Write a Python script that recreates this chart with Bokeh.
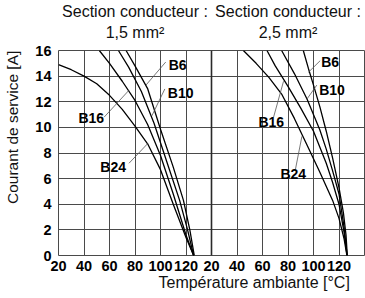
from bokeh.plotting import figure
from bokeh.models import Range1d, FixedTicker, Span, LinearAxis
from bokeh.core.properties import value
from bokeh.embed import file_html
from bokeh.resources import INLINE

# ---- data: section 1,5 mm2 (left panel) ----
L_B24_T = [20, 30, 40, 50, 60, 70, 80, 90, 100, 110, 120, 126]
L_B24_I = [14.9, 14.5, 14.0, 13.4, 12.5, 11.4, 10.1, 8.7, 6.7, 4.0, 1.4, 0]
L_B16_T = [52, 60, 70, 80, 90, 100, 110, 120, 126]
L_B16_I = [16, 15.0, 13.6, 12.1, 10.2, 7.8, 4.8, 1.6, 0]
L_B10_T = [67, 75, 85, 95, 105, 115, 121, 126]
L_B10_I = [16, 14.7, 12.8, 10.3, 7.3, 4.3, 2.1, 0]
L_B6_T = [73, 80, 90, 100, 110, 118, 123, 126.5]
L_B6_I = [16, 14.8, 13.0, 9.85, 6.9, 4.3, 2.0, 0]

# ---- data: section 2,5 mm2 (right panel) ----
R_B24_T = [45, 55, 65, 75, 85, 95, 105, 115, 120, 124, 126.2]
R_B24_I = [16, 15.0, 13.9, 12.6, 10.7, 8.6, 6.5, 4.3, 2.9, 1.3, 0]
R_B16_T = [63.5, 70, 80, 90, 100, 110, 115, 120, 124, 126.3]
R_B16_I = [16, 14.8, 13.2, 11.5, 9.7, 7.2, 5.7, 4.0, 1.8, 0]
R_B10_T = [75, 85, 95, 105, 110, 115, 120, 124, 126.4]
R_B10_I = [16, 14.2, 12.2, 9.8, 8.3, 6.6, 4.8, 2.2, 0]
R_B6_T = [92, 96, 100, 105, 110, 115, 120, 123.5, 125.5, 126.5]
R_B6_I = [16, 14.6, 13.3, 11.6, 9.7, 7.6, 5.3, 3.3, 1.6, 0]

curve_names = ["B6", "B10", "B16", "B24"]

# label anchors (temperature, current) and leader lines
L_lab_x = [113.5, 115.8, 45.7, 62.9]
L_lab_y = [14.9, 12.7, 10.7, 6.9]
L_lead_x0 = [104.1, 103.4, 55.8, 75.3]
L_lead_y0 = [15.1, 13.0, 10.8, 7.2]
L_lead_x1 = [88.6, 93.2, 75.3, 90.1]
L_lead_y1 = [13.3, 10.9, 12.9, 8.75]

R_lab_x = [113.0, 114.5, 66.9, 84.1]
R_lab_y = [15.1, 12.9, 10.4, 6.4]
R_lead_x0 = [105.2, 102.6, 68.7, 85.6]
R_lead_y0 = [15.2, 13.3, 10.8, 6.6]
R_lead_x1 = [96.0, 94.8, 76.5, 90.9]
R_lead_y1 = [14.3, 12.2, 13.6, 9.3]

x_ticks = [20, 40, 60, 80, 100, 120]
y_ticks = [0, 2, 4, 6, 8, 10, 12, 14, 16]
titles = ["Section conducteur :\n1,5 mm\u00b2", "Section conducteur :\n2,5 mm\u00b2"]
x_label = "Température ambiante [°C]"
y_label = "Courant de service [A]"
x_label_anchor = 198   # position of the x title centre (main x scale)
y_label_anchor = 10    # position of the y title centre (current scale)

FONT = "Liberation Sans"
GRID = "#4a4a4a"


def bare(ax):
    ax.axis_line_color = None
    ax.major_tick_line_color = None
    ax.minor_tick_line_color = None
    ax.major_tick_out = 0
    ax.major_tick_in = 0
    ax.minor_tick_out = 0
    ax.minor_tick_in = 0
    ax.major_label_text_font = FONT


p = figure(width=365, height=298, output_backend="svg", toolbar_location=None,
           x_range=Range1d(20, 260), y_range=Range1d(0, 16),
           min_border_left=57, min_border_right=1, min_border_top=50, min_border_bottom=43)
p.extra_x_ranges = {"right": Range1d(-100, 140)}
p.background_fill_color = "white"
p.border_fill_color = "white"
p.outline_line_color = GRID
p.outline_line_width = 1

# ticks: left panel 20..120, right panel shown with the same labels
all_ticks = x_ticks + [t + 120 for t in x_ticks]
p.xaxis.ticker = FixedTicker(ticks=all_ticks)
p.xaxis.major_label_overrides = {t + 120: str(t) for t in x_ticks}
p.yaxis.ticker = FixedTicker(ticks=y_ticks)
for ax in (p.xaxis, p.yaxis):
    bare(ax)
    ax.major_label_text_font_style = "bold"
    ax.major_label_text_font_size = "14.5px"
    ax.major_label_text_color = "black"
p.xaxis.major_label_standoff = 5
p.yaxis.major_label_standoff = 7

# axis titles as single tick labels of outer axes
xt = LinearAxis(ticker=FixedTicker(ticks=[x_label_anchor]),
                major_label_overrides={x_label_anchor: x_label})
bare(xt)
xt.major_label_text_font_size = "16px"
xt.major_label_text_color = "#111111"
xt.major_label_standoff = 0
p.add_layout(xt, "below")

yt = LinearAxis(ticker=FixedTicker(ticks=[y_label_anchor]),
                major_label_overrides={y_label_anchor: y_label},
                major_label_orientation="vertical")
bare(yt)
yt.major_label_text_font_size = "15.5px"
yt.major_label_text_color = "#111111"
yt.major_label_standoff = 12
p.add_layout(yt, "left")

# panel titles as labels of an axis above the frame
top = LinearAxis(ticker=FixedTicker(ticks=[80, 200]),
                 major_label_overrides={80: titles[0], 200: titles[1]})
bare(top)
top.major_label_text_font_size = "16px"
top.major_label_text_color = "#111111"
top.major_label_standoff = 10
p.add_layout(top, "above")

p.xgrid.ticker = FixedTicker(ticks=[t for t in range(40, 260, 20)])
p.ygrid.ticker = FixedTicker(ticks=y_ticks[1:-1])
p.xgrid.grid_line_color = GRID
p.ygrid.grid_line_color = GRID
p.xgrid.grid_line_width = 1
p.ygrid.grid_line_width = 1

p.add_layout(Span(location=140, dimension="height", line_color="#2a2a2a", line_width=1.6))

left = [(L_B6_T, L_B6_I), (L_B10_T, L_B10_I), (L_B16_T, L_B16_I), (L_B24_T, L_B24_I)]
right = [(R_B6_T, R_B6_I), (R_B10_T, R_B10_I), (R_B16_T, R_B16_I), (R_B24_T, R_B24_I)]
for T, I in left:
    p.line(T, I, line_color="black", line_width=1.3)
for T, I in right:
    p.line(T, I, line_color="black", line_width=1.3, x_range_name="right")

p.segment(L_lead_x0, L_lead_y0, L_lead_x1, L_lead_y1, line_color="#555555", line_width=0.8)
p.segment(R_lead_x0, R_lead_y0, R_lead_x1, R_lead_y1, line_color="#555555", line_width=0.8,
          x_range_name="right")
p.text(L_lab_x, L_lab_y, text=curve_names, text_font=value(FONT), text_font_style="bold",
       text_font_size="14px", text_align="center", text_baseline="middle", text_color="black")
p.text(R_lab_x, R_lab_y, text=curve_names, text_font=value(FONT), text_font_style="bold",
       text_font_size="14px", text_align="center", text_baseline="middle", text_color="black",
       x_range_name="right")

open("out.html", "w").write(file_html(p, INLINE))
